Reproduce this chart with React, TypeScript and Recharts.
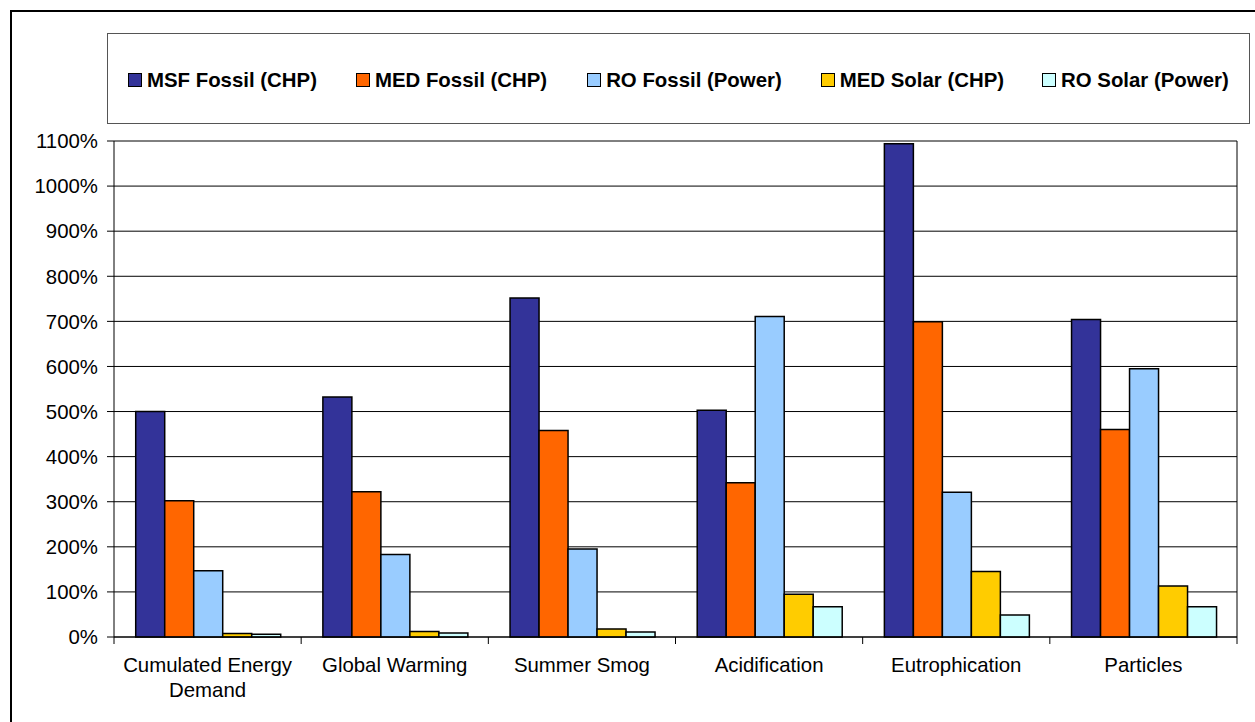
import React from 'react';
import { BarChart, Bar, XAxis, YAxis, CartesianGrid, Legend, Text } from 'recharts';

const categories = ['Cumulated Energy Demand', 'Global Warming', 'Summer Smog', 'Acidification', 'Eutrophication', 'Particles'];
const msfFossil = [500, 532, 752, 503, 1094, 704];
const medFossil = [302, 322, 458, 342, 699, 460];
const roFossil = [147, 183, 195, 711, 321, 595];
const medSolar = [8, 12, 18, 95, 145, 113];
const roSolar = [6, 9, 11, 67, 49, 67];
const yTicks = [0, 100, 200, 300, 400, 500, 600, 700, 800, 900, 1000, 1100];

const seriesNames = ['MSF Fossil (CHP)', 'MED Fossil (CHP)', 'RO Fossil (Power)', 'MED Solar (CHP)', 'RO Solar (Power)'];
const seriesKeys = ['msf', 'medF', 'roF', 'medS', 'roS'];
const seriesColors = ['#333399', '#FF6600', '#99CCFF', '#FFCC00', '#CCFFFF'];
const legendGaps = [20, 39, 40, 39, 38];

const data = categories.map((c, i) => ({
  name: c,
  msf: msfFossil[i],
  medF: medFossil[i],
  roF: roFossil[i],
  medS: medSolar[i],
  roS: roSolar[i],
}));

const FONT = '"Liberation Sans", Arial, sans-serif';
const FS = 20.4;
const TICK_SIZE = 7;
const TICK_MARGIN = 14;

const XTick = (props: any) => {
  const { x, y, payload, index, visibleTicksCount } = props;
  const half = payload?.offset ?? 0;
  const axisY = y - TICK_SIZE - TICK_MARGIN;
  const isLast = index === visibleTicksCount - 1;
  return (
    <g>
      <line x1={x - half} x2={x - half} y1={axisY} y2={axisY + TICK_SIZE} stroke="#000" strokeWidth={1} />
      {isLast && (
        <line x1={x + half} x2={x + half} y1={axisY} y2={axisY + TICK_SIZE} stroke="#000" strokeWidth={1} />
      )}
      <Text
        x={x}
        y={y}
        width={half * 2 - 8}
        textAnchor="middle"
        verticalAnchor="start"
        lineHeight={25}
        fontSize={FS}
        fontFamily={FONT}
        style={{ fontSize: FS, fontFamily: FONT }}
        fill="#000"
      >
        {payload.value}
      </Text>
    </g>
  );
};

const LegendContent = () => (
  <div
    style={{
      width: '100%',
      height: '100%',
      boxSizing: 'border-box',
      border: '1px solid #555',
      background: '#fff',
      display: 'flex',
      alignItems: 'center',
      paddingTop: 3,
      fontFamily: FONT,
      fontWeight: 'bold',
      fontSize: FS,
      color: '#000',
    }}
  >
    {seriesNames.map((n, i) => (
      <div key={n} style={{ display: 'flex', alignItems: 'center', marginLeft: legendGaps[i], whiteSpace: 'nowrap' }}>
        <span
          style={{
            display: 'inline-block',
            width: 12,
            height: 12,
            border: '1px solid #000',
            background: seriesColors[i],
            marginRight: 5,
          }}
        />
        <span>{n}</span>
      </div>
    ))}
  </div>
);

export default function App() {
  return (
    <div style={{ position: 'absolute', left: 0, top: 0, width: 1255, height: 722, overflow: 'hidden', background: '#fff' }}>
      <div
        style={{
          position: 'absolute',
          left: 10,
          top: 10,
          width: 1300,
          height: 800,
          border: '2px solid #000',
          boxSizing: 'border-box',
        }}
      />
      <BarChart
        width={1255}
        height={722}
        data={data}
        margin={{ top: 141, right: 18, bottom: 25, left: 0 }}
        barCategoryGap="11.6%"
        barGap={0}
        style={{ position: 'absolute', left: 0, top: 0 }}
      >
        <CartesianGrid
          stroke="#000"
          strokeWidth={1}
          vertical={true}
          verticalCoordinatesGenerator={({ offset }: any) => [offset.left + offset.width]}
        />
        <XAxis
          dataKey="name"
          height={60}
          tickLine={false}
          tickSize={TICK_SIZE}
          tickMargin={TICK_MARGIN}
          axisLine={{ stroke: '#000' }}
          tick={<XTick />}
          interval={0}
        />
        <YAxis
          width={114}
          domain={[0, 1100]}
          ticks={yTicks}
          interval={0}
          tickFormatter={(v: number) => `${v}%`}
          tickSize={TICK_SIZE}
          tickMargin={9}
          tickLine={{ stroke: '#000' }}
          axisLine={{ stroke: '#000' }}
          tick={{ fill: '#000', fontSize: FS, fontFamily: FONT }}
        />
        <Legend
          layout="vertical"
          align="center"
          verticalAlign="middle"
          content={<LegendContent />}
          wrapperStyle={{ left: 107, top: 33, width: 1143, height: 91 }}
        />
        {seriesKeys.map((k, i) => (
          <Bar
            key={k}
            dataKey={k}
            name={seriesNames[i]}
            fill={seriesColors[i]}
            stroke="#000"
            strokeWidth={1.5}
            isAnimationActive={false}
          />
        ))}
      </BarChart>
    </div>
  );
}
